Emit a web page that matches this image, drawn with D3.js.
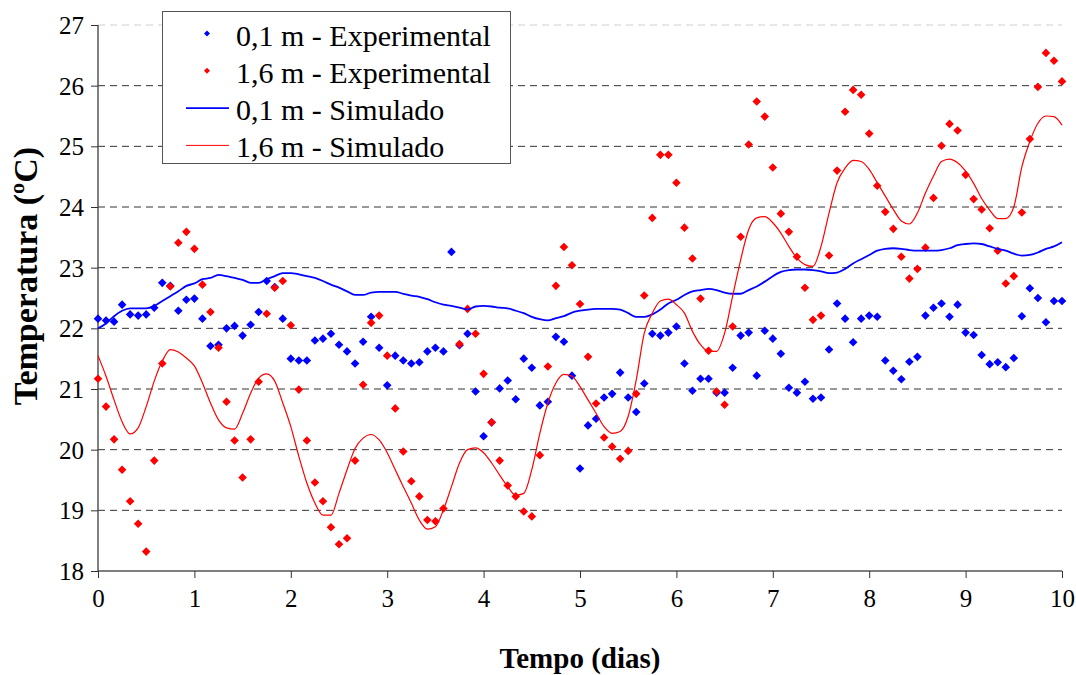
<!DOCTYPE html>
<html lang="pt">
<head>
<meta charset="utf-8">
<script src="https://cdn.jsdelivr.net/npm/d3@7/dist/d3.min.js"></script>
<style>
  html, body { margin: 0; padding: 0; background: #fff; }
  svg { display: block; font-family: "Liberation Serif", "Times New Roman", serif; }
</style>
</head>
<body>
<svg id="chart" width="1076" height="675"></svg>
<script>
// Leituras a cada 2 horas ao longo de 10 dias (121 instantes)
const passoHoras = 2;

const exp01 = [
  22.16, 22.13, 22.11, 22.39, 22.23, 22.21, 22.23, 22.34, 22.75, 22.70, 22.29, 22.47, 22.49,
  22.16, 21.71, 21.73, 22.00, 22.04, 21.88, 22.06, 22.27, 22.78, 22.68, 22.16, 21.50,
  21.47, 21.47, 21.80, 21.83, 21.91, 21.73, 21.62, 21.42, 21.78, 22.19, 21.68, 21.06,
  21.55, 21.47, 21.42, 21.44, 21.62, 21.68, 21.62, 23.26, 21.72, 21.91, 20.96, 20.22,
  20.45, 21.01, 21.14, 20.83, 21.50, 21.35, 20.73, 20.79, 21.86, 21.78, 21.22, 19.69,
  20.40, 20.51, 20.86, 20.92, 21.27, 20.86, 20.62, 21.09, 21.91, 21.88, 21.93, 22.03,
  21.42, 20.97, 21.17, 21.17, 20.94, 20.94, 21.35, 21.88, 21.93, 21.22, 21.96, 21.83,
  21.58, 21.02, 20.94, 21.12, 20.84, 20.86, 21.65, 22.41, 22.16, 21.77, 22.16, 22.21,
  22.19, 21.47, 21.30, 21.16, 21.45, 21.53, 22.21, 22.34, 22.41, 22.19, 22.39, 21.93,
  21.89, 21.56, 21.41, 21.44, 21.36, 21.51, 22.20, 22.66, 22.50, 22.10, 22.45, 22.45
];

const exp16 = [
  21.17, 20.71, 20.17, 19.67, 19.15, 18.78, 18.32, 19.82, 21.42, 22.69, 23.41, 23.59, 23.31,
  22.72, 22.27, 21.68, 20.79, 20.15, 19.54, 20.17, 21.12, 22.24, 22.67, 22.78, 22.05,
  20.99, 20.15, 19.46, 19.15, 18.72, 18.44, 18.54, 19.82, 21.07, 22.09, 22.21, 21.55,
  20.68, 19.97, 19.48, 19.23, 18.84, 18.82, 19.03, null, 21.74, 22.32, 21.91, 21.25,
  20.45, 19.82, 19.41, 19.23, 18.98, 18.90, 19.91, 21.37, 22.70, 23.34, 23.04, 22.40,
  21.53, 20.76, 20.20, 20.05, 19.85, 19.98, 20.92, 22.54, 23.82, 24.86, 24.86, 24.40,
  23.66, 23.15, 22.49, 21.63, 20.96, 20.74, 22.03, 23.51, 25.03, 25.74, 25.49, 24.65,
  23.89, 23.59, 23.18, 22.67, 22.14, 22.21, 23.20, 24.60, 25.57, 25.93, 25.85, 25.21,
  24.35, 23.92, 23.64, 23.18, 22.82, 22.98, 23.33, 24.15, 25.01, 25.37, 25.26, 24.53,
  24.13, 23.96, 23.65, 23.28, 22.74, 22.86, 23.91, 25.12, 25.98, 26.54, 26.41, 26.07
];

const sim01 = [
  22.00, 22.08, 22.20, 22.29, 22.33, 22.33, 22.33, 22.37, 22.45, 22.53, 22.61, 22.70, 22.74,
  22.81, 22.83, 22.88, 22.86, 22.83, 22.80, 22.75, 22.75, 22.81, 22.86, 22.91, 22.91,
  22.89, 22.86, 22.83, 22.78, 22.72, 22.67, 22.61, 22.55, 22.55, 22.59, 22.60, 22.60,
  22.60, 22.57, 22.54, 22.52, 22.48, 22.43, 22.39, 22.37, 22.34, 22.31, 22.36, 22.37,
  22.36, 22.34, 22.33, 22.29, 22.25, 22.19, 22.15, 22.13, 22.17, 22.20, 22.26, 22.29,
  22.31, 22.32, 22.32, 22.32, 22.31, 22.25, 22.19, 22.19, 22.23, 22.31, 22.41, 22.47,
  22.55, 22.61, 22.63, 22.65, 22.63, 22.59, 22.57, 22.57, 22.63, 22.69, 22.77, 22.86,
  22.93, 22.96, 22.97, 22.97, 22.96, 22.94, 22.91, 22.92, 22.98, 23.07, 23.14, 23.21,
  23.28, 23.31, 23.32, 23.31, 23.29, 23.28, 23.28, 23.28, 23.29, 23.32, 23.37, 23.39,
  23.40, 23.39, 23.35, 23.31, 23.28, 23.23, 23.20, 23.21, 23.25, 23.31, 23.35, 23.42
];

const sim16 = [
  21.55, 21.21, 20.82, 20.46, 20.26, 20.36, 20.71, 21.13, 21.46, 21.65, 21.61, 21.51, 21.38,
  21.10, 20.77, 20.49, 20.36, 20.34, 20.60, 20.93, 21.18, 21.25, 21.13, 20.77, 20.38,
  19.89, 19.45, 19.12, 18.92, 18.92, 19.28, 19.67, 20.02, 20.19, 20.25, 20.16, 19.95,
  19.67, 19.39, 19.12, 18.84, 18.69, 18.73, 19.01, 19.39, 19.78, 20.00, 20.03, 19.95,
  19.78, 19.58, 19.39, 19.25, 19.28, 19.67, 20.27, 20.77, 21.10, 21.24, 21.21, 21.04,
  20.82, 20.60, 20.38, 20.27, 20.30, 20.55, 21.15, 21.92, 22.25, 22.45, 22.48, 22.39,
  22.25, 21.95, 21.73, 21.62, 21.62, 21.92, 22.53, 23.13, 23.63, 23.82, 23.84, 23.74,
  23.57, 23.35, 23.16, 23.05, 23.02, 23.35, 23.90, 24.40, 24.64, 24.77, 24.75, 24.62,
  24.40, 24.18, 23.96, 23.77, 23.72, 23.90, 24.23, 24.51, 24.75, 24.79, 24.73, 24.59,
  24.39, 24.14, 23.95, 23.81, 23.81, 24.00, 24.66, 25.08, 25.38, 25.50, 25.49, 25.35
];

const xTicks = [0, 1, 2, 3, 4, 5, 6, 7, 8, 9, 10];
const yTicks = [18, 19, 20, 21, 22, 23, 24, 25, 26, 27];

const legendItems = [
  { label: "0,1 m - Experimental", color: "#0000ff", kind: "marker" },
  { label: "1,6 m - Experimental", color: "#ff0000", kind: "marker" },
  { label: "0,1 m - Simulado", color: "#0000ff", kind: "line" },
  { label: "1,6 m - Simulado", color: "#ff0000", kind: "line" }
];

const tempo = exp01.map((_, i) => i * passoHoras / 24);

const svg = d3.select("#chart");
const plot = { left: 98, right: 1062, top: 25, bottom: 571 };

const x = d3.scaleLinear().domain([0, 10]).range([plot.left, plot.right]);
const y = d3.scaleLinear().domain([18, 27]).range([plot.bottom, plot.top]);

// Linhas de grade tracejadas
const grid = svg.append("g");
grid.selectAll("line")
  .data(yTicks.filter(v => v > 18))
  .join("line")
  .attr("x1", plot.left).attr("x2", plot.right)
  .attr("y1", d => y(d)).attr("y2", d => y(d))
  .attr("stroke", d => d === 27 ? "#cfcfcf" : "#333")
  .attr("stroke-width", 1)
  .attr("stroke-dasharray", "7,5");

// Eixos
const xAxis = svg.append("g")
  .attr("transform", `translate(0,${plot.bottom})`)
  .call(d3.axisBottom(x).tickValues(xTicks).tickSize(7).tickPadding(11).tickFormat(d3.format("d")));
const yAxis = svg.append("g")
  .attr("transform", `translate(${plot.left},0)`)
  .call(d3.axisLeft(y).tickValues(yTicks).tickSize(7).tickPadding(7).tickFormat(d3.format("d")));

[xAxis, yAxis].forEach(ax => {
  ax.select(".domain").attr("stroke", "#555").attr("stroke-width", 1.5);
  ax.selectAll(".tick line").attr("stroke", "#333").attr("stroke-width", 1);
  ax.selectAll(".tick text")
    .attr("fill", "#000")
    .attr("font-family", "Liberation Serif, Times New Roman, serif")
    .attr("font-size", 25);
});
xAxis.select(".domain").attr("d", `M${plot.left},0H${plot.right}`);
yAxis.select(".domain").attr("d", `M0,${plot.bottom}V${plot.top}`);
yAxis.selectAll(".tick text").attr("dy", "0.34em");

// Marcadores em losango
const diamond = r => `M0,${-r}L${r},0L0,${r}L${-r},0Z`;

function drawPoints(values, color) {
  svg.append("g")
    .selectAll("path")
    .data(values.map((v, i) => ({ t: tempo[i], v })).filter(d => d.v !== null))
    .join("path")
    .attr("d", diamond(4.3))
    .attr("transform", d => `translate(${x(d.t)},${y(d.v)})`)
    .attr("fill", color);
}
drawPoints(exp01, "#0000ff");
drawPoints(exp16, "#ff0000");

const line = d3.line()
  .x(d => x(d.t))
  .y(d => y(d.v))
  .curve(d3.curveMonotoneX);

svg.append("path")
  .datum(sim01.map((v, i) => ({ t: tempo[i], v })))
  .attr("d", line)
  .attr("fill", "none")
  .attr("stroke", "#0000ff")
  .attr("stroke-width", 1.8);

svg.append("path")
  .datum(sim16.map((v, i) => ({ t: tempo[i], v })))
  .attr("d", line)
  .attr("fill", "none")
  .attr("stroke", "#ff0000")
  .attr("stroke-width", 1.2);

// Títulos dos eixos
svg.append("text")
  .attr("x", (plot.left + plot.right) / 2)
  .attr("y", 668)
  .attr("text-anchor", "middle")
  .attr("font-weight", "bold")
  .attr("font-size", 29)
  .text("Tempo (dias)");

svg.append("text")
  .attr("transform", "translate(37,276) rotate(-90)")
  .attr("text-anchor", "middle")
  .attr("font-weight", "bold")
  .attr("font-size", 34)
  .text("Temperatura (ºC)");

// Legenda
const legend = svg.append("g");
legend.append("rect")
  .attr("x", 162.5).attr("y", 11.5)
  .attr("width", 348).attr("height", 152)
  .attr("fill", "#fff")
  .attr("stroke", "#555")
  .attr("stroke-width", 1);

const rows = legend.selectAll("g.row")
  .data(legendItems)
  .join("g")
  .attr("class", "row")
  .attr("transform", (d, i) => `translate(0,${33.5 + i * 37.3})`);

rows.filter(d => d.kind === "marker")
  .append("path")
  .attr("d", diamond(3))
  .attr("transform", "translate(207,0)")
  .attr("fill", d => d.color);

rows.filter(d => d.kind === "line")
  .append("line")
  .attr("x1", 186).attr("x2", 229)
  .attr("stroke", d => d.color)
  .attr("stroke-width", d => d.color === "#0000ff" ? 1.6 : 1);

rows.append("text")
  .attr("x", 236)
  .attr("y", 12)
  .attr("font-size", 30)
  .attr("fill", "#000")
  .text(d => d.label);
</script>
</body>
</html>
